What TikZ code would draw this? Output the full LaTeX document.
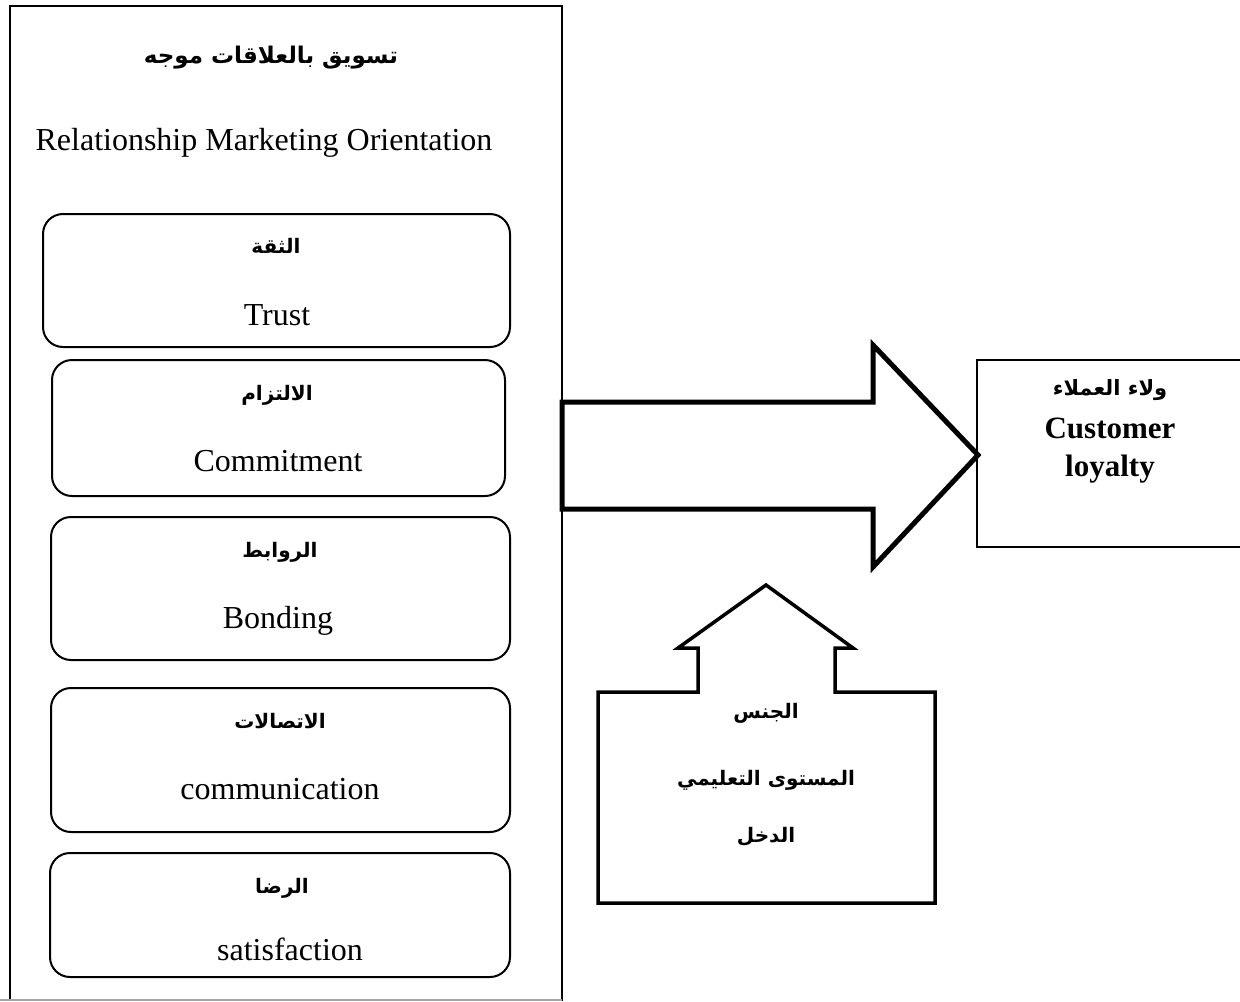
\documentclass[tikz,border=0pt]{standalone}
\usepackage{fontspec}
\setmainfont{Liberation Serif}
\newfontfamily\arabicfont[Script=Arabic]{DejaVu Sans}
\TeXXeTstate=1
\newcommand{\artext}[1]{\arabicfont\bfseries\beginR #1\endR}

\tikzset{
  frameline/.style={line width=1pt},
  rbox/.style={draw, line width=1pt, rounded corners=10pt},
  en/.style={anchor=base, inner sep=0pt, font=\fontsize{16}{19}\selectfont},
  enb/.style={anchor=base, inner sep=0pt, font=\bfseries\fontsize{15.5}{18}\selectfont},
  ar/.style={anchor=base, inner sep=0pt, font=\fontsize{10}{12}\selectfont},
  bigarrow/.style={draw, line width=2.5pt, miter limit=20},
  uparrow/.style={draw, line width=1.75pt, miter limit=20},
}

\begin{document}
\begin{tikzpicture}[x=0.5pt, y=-0.5pt]
\useasboundingbox (0,0) rectangle (1240,1001);

% outer panel: relationship marketing orientation
\draw[frameline] (10,1001) -- (10,6) -- (562,6) -- (562,1001);
\draw[gray!70, line width=0.75pt] (0,1000) -- (562,1000);

\node[ar, font=\fontsize{11.5}{14}\selectfont] (title-ar) at (271,63) {\artext{تسويق بالعلاقات موجه}};
\node[en] (title-en) at (264,150) {Relationship Marketing Orientation};

% dimension boxes
\draw[rbox] (43,214) rectangle (510,347);
\node[ar] (trust-ar) at (276,253) {\artext{الثقة}};
\node[en] (trust-en) at (277,325) {Trust};

\draw[rbox] (52,360) rectangle (505,496);
\node[ar] (commit-ar) at (277,400) {\artext{الالتزام}};
\node[en] (commit-en) at (278,471) {Commitment};

\draw[rbox] (51,517) rectangle (510,660);
\node[ar] (bond-ar) at (280,557) {\artext{الروابط}};
\node[en] (bond-en) at (278,628) {Bonding};

\draw[rbox] (51,688) rectangle (510,832);
\node[ar] (comm-ar) at (280,728) {\artext{الاتصالات}};
\node[en] (comm-en) at (280,799) {communication};

\draw[rbox] (50,853) rectangle (510,977);
\node[ar] (sat-ar) at (282,893) {\artext{الرضا}};
\node[en] (sat-en) at (290,960) {satisfaction};

% block arrow towards the outcome
\draw[bigarrow] (562,402) -- (873,402) -- (873,345) -- (978,455)
  -- (873,567) -- (873,509) -- (562,509) -- cycle;

% outcome box
\draw[frameline] (977,360) rectangle (1250,547);
\node[ar, font=\fontsize{10.5}{12}\selectfont] (loyal-ar) at (1110,395) {\artext{ولاء العملاء}};
\node[enb] (loyal-en1) at (1110,438) {Customer};
\node[enb] (loyal-en2) at (1110,476) {loyalty};

% moderating variables, upward block arrow
\draw[uparrow] (598,692) -- (698,692) -- (698,648) -- (678,648) -- (766,585)
  -- (853,648) -- (835,648) -- (835,692) -- (935,692) -- (935,903)
  -- (598,903) -- cycle;
\node[ar] (mod1) at (766,718) {\artext{الجنس}};
\node[ar] (mod2) at (766,785) {\artext{المستوى التعليمي}};
\node[ar] (mod3) at (766,842) {\artext{الدخل}};
\end{tikzpicture}
\end{document}
